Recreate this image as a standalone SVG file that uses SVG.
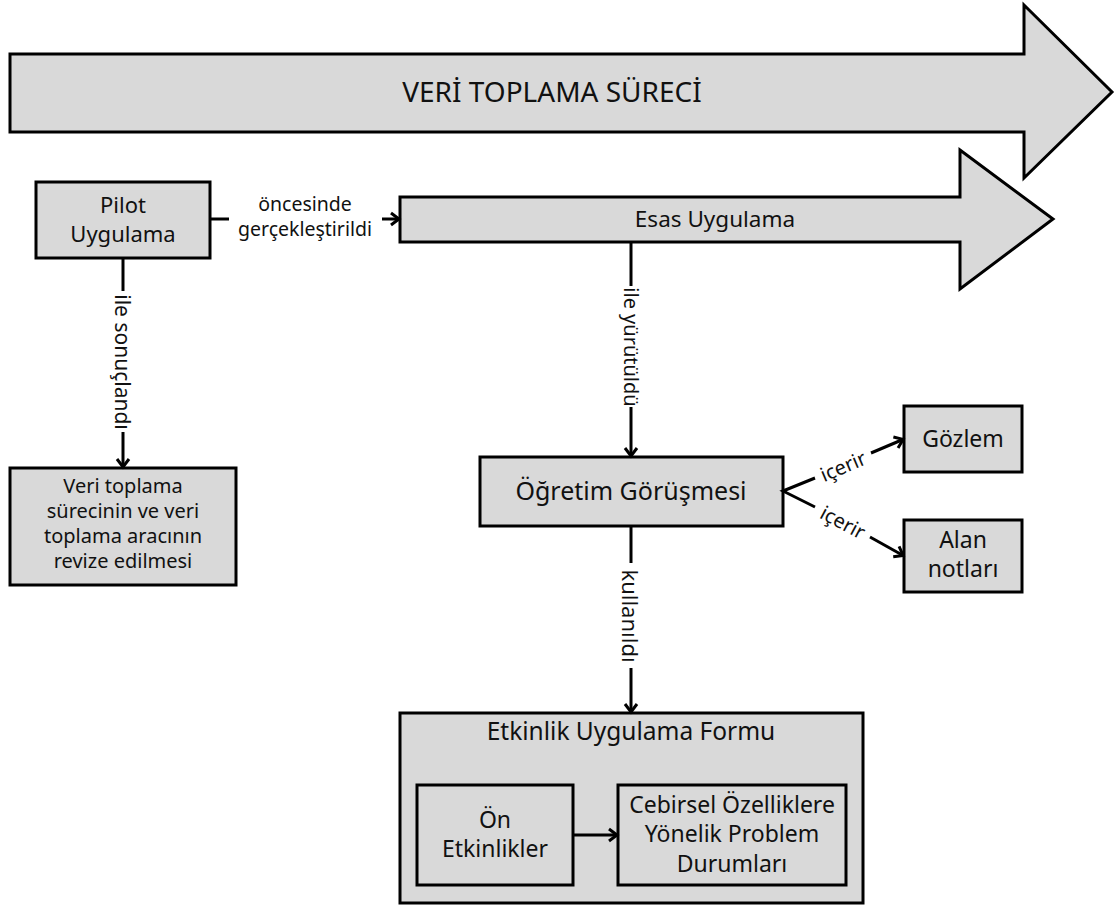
<svg xmlns="http://www.w3.org/2000/svg" width="1115" height="905" viewBox="0 0 1115 905">
<defs>
<style>
.box{fill:#d9d9d9;stroke:#000;stroke-width:3}
.t{font-family:"Noto Sans","Open Sans",sans-serif;fill:#111;text-anchor:middle}
.c{stroke:#000;stroke-width:3;fill:none}
.ca{stroke:#000;stroke-width:3;fill:none;marker-end:url(#ah)}
</style>
<marker id="ah" viewBox="0 0 16 16" refX="13" refY="8" markerWidth="16" markerHeight="16" markerUnits="userSpaceOnUse" orient="auto">
<path d="M4,2 L12,8 L4,14" fill="none" stroke="#000" stroke-width="3"/>
</marker>
</defs>
<rect width="1115" height="905" fill="#fff"/>
<g id="veri-toplama-sureci">
<polygon class="box" points="10,54 1024,54 1024,5 1112,92 1024,178 1024,132 10,132"/>
<text class="t" x="552" y="102" font-size="28">VERİ TOPLAMA SÜRECİ</text>
</g>
<g id="esas-uygulama">
<polygon class="box" points="400,197 960,197 960,150 1053,219 960,289 960,242 400,242"/>
<text class="t" x="715" y="227" font-size="22.5">Esas Uygulama</text>
</g>
<g id="pilot-uygulama">
<rect class="box" x="36" y="182" width="174" height="76"/>
<text class="t" x="123" y="213" font-size="22">Pilot</text>
<text class="t" x="123" y="242" font-size="22">Uygulama</text>
</g>
<g id="revize">
<rect class="box" x="10" y="468" width="226" height="117"/>
<text class="t" x="123" y="493" font-size="20">Veri toplama</text>
<text class="t" x="123" y="518" font-size="20">sürecinin ve veri</text>
<text class="t" x="123" y="543" font-size="20">toplama aracının</text>
<text class="t" x="123" y="568" font-size="20">revize edilmesi</text>
</g>
<g id="ogretim-gorusmesi">
<rect class="box" x="480" y="457" width="303" height="69"/>
<text class="t" x="631" y="500" font-size="25">Öğretim Görüşmesi</text>
</g>
<g id="gozlem">
<rect class="box" x="904" y="406" width="118" height="66"/>
<text class="t" x="963" y="447" font-size="23">Gözlem</text>
</g>
<g id="alan-notlari">
<rect class="box" x="904" y="520" width="118" height="72"/>
<text class="t" x="963" y="548" font-size="23">Alan</text>
<text class="t" x="963" y="577" font-size="23">notları</text>
</g>
<g id="etkinlik-uygulama-formu">
<rect class="box" x="400" y="713" width="463" height="190"/>
<text class="t" x="631" y="740" font-size="24.5">Etkinlik Uygulama Formu</text>
</g>
<g id="on-etkinlikler">
<rect class="box" x="417" y="785" width="156" height="100"/>
<text class="t" x="495" y="828" font-size="23">Ön</text>
<text class="t" x="495" y="857" font-size="23">Etkinlikler</text>
</g>
<g id="problem-durumlari">
<rect class="box" x="618" y="785" width="228" height="100"/>
<text class="t" x="732" y="813" font-size="23">Cebirsel Özelliklere</text>
<text class="t" x="732" y="842" font-size="23">Yönelik Problem</text>
<text class="t" x="732" y="872" font-size="23">Durumları</text>
</g>
<g id="connectors">
<line class="c" x1="210" y1="219" x2="229" y2="219"/>
<line class="ca" x1="382" y1="219" x2="400" y2="219"/>
<text class="t" x="305" y="211" font-size="19.5">öncesinde</text>
<text class="t" x="305" y="236" font-size="19.5">gerçekleştirildi</text>
<line class="c" x1="123" y1="258" x2="123" y2="291"/>
<line class="ca" x1="123" y1="432" x2="123" y2="468"/>
<text class="t" font-size="21" dominant-baseline="central" transform="translate(123,362) rotate(90)">ile sonuçlandı</text>
<line class="c" x1="631" y1="242" x2="631" y2="286"/>
<line class="ca" x1="631" y1="407" x2="631" y2="457"/>
<text class="t" font-size="20" dominant-baseline="central" transform="translate(631,347) rotate(90)">ile yürütüldü</text>
<line class="c" x1="631" y1="526" x2="631" y2="563"/>
<line class="ca" x1="631" y1="668" x2="631" y2="713"/>
<text class="t" font-size="22" dominant-baseline="central" transform="translate(631,616) rotate(90)">kullanıldı</text>
<line class="ca" x1="573" y1="835" x2="618" y2="835"/>
<polyline class="c" points="815,478 783,491 815,507"/>
<line class="ca" x1="871" y1="453" x2="904" y2="439"/>
<line class="ca" x1="870" y1="537" x2="904" y2="556"/>
<text class="t" font-size="20" dominant-baseline="central" transform="translate(843,466) rotate(-23)">içerir</text>
<text class="t" font-size="20" dominant-baseline="central" transform="translate(843,522) rotate(28)">içerir</text>
</g>
</svg>
